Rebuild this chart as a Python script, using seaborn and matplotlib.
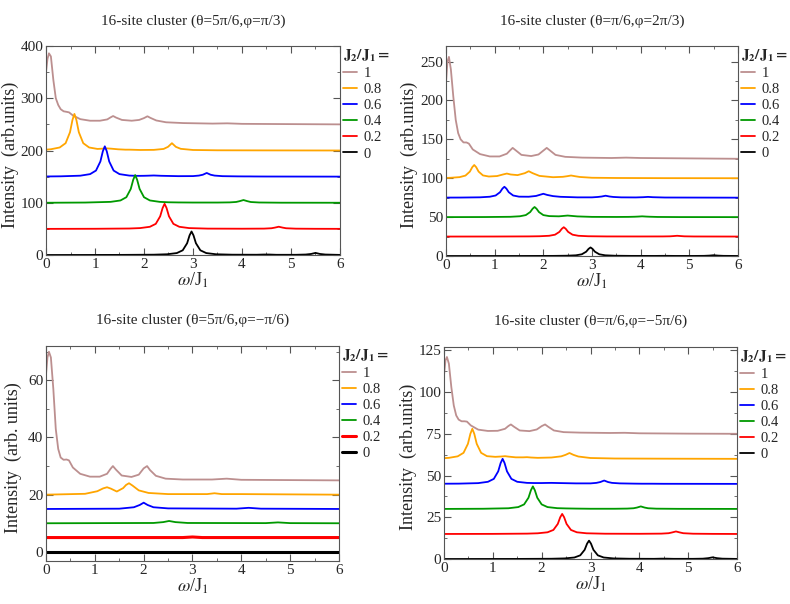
import numpy as np
import pandas as pd
import matplotlib
matplotlib.use("Agg")
import matplotlib.pyplot as plt
from matplotlib.ticker import MultipleLocator
import seaborn as sns

# J2/J1 values and colours (legend order top to bottom)
j2_labels = ["1", "0.8", "0.6", "0.4", "0.2", "0"]
colors = ["#bc8f8f", "#ffa500", "#0000ff", "#009900", "#ff0000", "#000000"]

titles = [
    "16-site cluster (\u03b8=5\u03c0/6,\u03c6=\u03c0/3)",
    "16-site cluster (\u03b8=\u03c0/6,\u03c6=2\u03c0/3)",
    "16-site cluster (\u03b8=5\u03c0/6,\u03c6=\u2212\u03c0/6)",
    "16-site cluster (\u03b8=\u03c0/6,\u03c6=\u22125\u03c0/6)",
]
ylabels = ["Intensity  (arb.units)", "Intensity  (arb.units)",
           "Intensity  (arb. units)", "Intensity  (arb.units)"]

# omega/J1 sample points, one list per J2 (panels a, b, d)
x_j10 = [0, 0.03, 0.06, 0.1, 0.15, 0.2, 0.25, 0.3, 0.36, 0.42, 0.47, 0.55, 0.7, 0.9,
         1.1, 1.25, 1.32, 1.37, 1.43, 1.55, 1.75, 1.9, 2.0, 2.07, 2.13, 2.25, 2.45,
         2.8, 3.4, 3.7, 4.0, 5.0, 6.0]
x_j08 = [0, 0.1, 0.28, 0.4, 0.49, 0.54, 0.58, 0.62, 0.67, 0.76, 0.88, 1.05, 1.17,
         1.25, 1.33, 1.47, 1.62, 1.7, 1.78, 1.92, 2.2, 2.4, 2.49, 2.57, 2.65, 2.75,
         3.0, 3.5, 4.5, 6.0]
x_j06 = [0, 0.3, 0.7, 0.9, 1.02, 1.11, 1.16, 1.2, 1.24, 1.29, 1.38, 1.5, 1.7, 1.85,
         1.92, 2.0, 2.08, 2.2, 2.35, 2.7, 3.0, 3.12, 3.2, 3.28, 3.36, 3.44, 3.6, 3.9,
         4.05, 4.15, 4.25, 4.5, 6.0]
x_j04 = [0, 0.8, 1.32, 1.52, 1.64, 1.73, 1.78, 1.82, 1.86, 1.91, 2.0, 2.12, 2.32,
         2.5, 2.7, 3.0, 3.5, 3.75, 3.88, 3.95, 4.03, 4.11, 4.18, 4.35, 4.8, 6.0]
x_j02 = [0, 1.0, 1.7, 1.92, 2.12, 2.24, 2.33, 2.38, 2.42, 2.46, 2.51, 2.6, 2.72,
         2.92, 3.3, 4.0, 4.45, 4.6, 4.67, 4.75, 4.83, 4.9, 5.1, 5.5, 6.0]
x_j00 = [0, 1.5, 2.2, 2.47, 2.67, 2.79, 2.88, 2.93, 2.97, 3.01, 3.06, 3.15, 3.27,
         3.47, 3.8, 4.3, 4.45, 4.55, 4.7, 5.1, 5.3, 5.41, 5.5, 5.59, 5.7, 6.0]

# panel a: theta=5pi/6, phi=pi/3
a_j10 = [350, 375, 386, 380, 335, 300, 287, 279, 275, 274, 273, 267, 260, 257, 257,
         259.5, 263.5, 266, 263, 258.5, 257, 258.5, 262, 265.5, 262.5, 257.5, 254,
         252.5, 251.5, 252, 251, 250.5, 250]
a_j08 = [201.6, 202.4, 205.8, 214, 235, 258.5, 270, 258.5, 235, 214, 205.8, 203,
         203.6, 204, 203.5, 202.3, 201.6, 201.6, 201.4, 201, 201.2, 203, 207, 214,
         207, 203.2, 201, 200.4, 200.2, 200]
a_j06 = [150.3, 150.6, 151.8, 154.8, 161.6, 179, 198.5, 208, 198.5, 179, 161.6,
         154.8, 152, 151.5, 151.5, 151.6, 151.8, 152.2, 151.6, 150.9, 151, 152,
         153.6, 157, 153.6, 152, 150.9, 150.5, 150.4, 150.4, 150.3, 150.2, 150]
a_j04 = [100, 100.4, 101.7, 104.4, 110.6, 126.5, 144, 153, 144, 126.5, 110.6, 104.4,
         101.7, 100.9, 100.6, 100.4, 100.4, 100.7, 101.5, 103, 105.2, 103, 101.4,
         100.5, 100.1, 100]
a_j02 = [50, 50.2, 50.7, 51.5, 54, 59.6, 74, 90, 98, 90, 74, 59.6, 54, 51.5, 50.5,
         50.3, 50.5, 51.2, 52.4, 54.1, 52.4, 51.2, 50.4, 50.15, 50.05]
a_j00 = [0, 0.2, 0.6, 1.4, 3.7, 9, 22.5, 37.6, 45, 37.6, 22.5, 9, 3.7, 1.4, 0.6,
         0.5, 0.9, 0.9, 0.4, 0.4, 0.9, 2, 4, 2, 0.9, 0.2]

# panel b: theta=pi/6, phi=2pi/3
b_j10 = [223, 250, 256, 240, 205, 175, 158, 150, 146, 146, 144.5, 137, 131, 128,
         128, 131.5, 136, 139, 136, 130, 128.5, 130.5, 135.5, 139, 136, 130, 127.5,
         126.5, 126, 126.5, 126, 125.5, 125]
b_j08 = [100.4, 100.6, 101.4, 103.4, 108.5, 114.2, 117, 114.2, 108.5, 103.6, 102.2,
         102.8, 104.8, 106, 104.8, 104, 106.5, 109, 106.5, 103, 101.3, 101.8, 102.6,
         103.5, 102.6, 101.6, 100.6, 100.3, 100.1, 100]
b_j06 = [75.1, 75.15, 75.45, 76.2, 77.8, 82, 86.7, 89, 86.7, 82, 77.8, 76.3, 76.2,
         77.2, 78.5, 80, 78.5, 77, 76.1, 75.4, 75.4, 75.9, 76.5, 77.5, 76.5, 75.9,
         75.4, 75.3, 75.6, 76, 75.6, 75.2, 75]
b_j04 = [50, 50.1, 50.4, 51.1, 52.6, 56.5, 60.8, 63, 60.8, 56.5, 52.6, 51.3, 51,
         52, 50.9, 50.3, 50.2, 50.3, 50.5, 50.7, 51, 50.7, 50.5, 50.2, 50.05, 50]
b_j02 = [25, 25.05, 25.2, 25.4, 26, 27.4, 31, 35, 37, 35, 31, 27.4, 26, 25.4, 25.15,
         25.1, 25.15, 25.3, 25.6, 26, 25.6, 25.3, 25.1, 25.05, 25]
b_j00 = [0, 0.05, 0.15, 0.35, 0.9, 2.2, 5.5, 9.2, 11, 9.2, 5.5, 2.2, 0.9, 0.35,
         0.15, 0.1, 0.2, 0.2, 0.1, 0.1, 0.2, 0.5, 1, 0.5, 0.2, 0.05]

# panel d: theta=pi/6, phi=-5pi/6
d_j10 = [110, 119, 121, 117, 103, 92, 86, 83.5, 82.5, 82.5, 82.3, 80, 77.5, 76.7,
         76.8, 78, 79.7, 80.6, 79.3, 77, 76.6, 77.6, 79.6, 80.6, 79.3, 77, 76, 75.7,
         75.5, 75.6, 75.3, 75.1, 75]
d_j08 = [60.4, 60.6, 61.5, 63.6, 69, 75, 78, 75, 69, 63.6, 61.6, 61.2, 61.4, 61.6,
         61.3, 60.9, 60.9, 61, 60.8, 60.6, 60.8, 61.5, 62.4, 63.5, 62.4, 61.4, 60.5,
         60.2, 60.1, 60]
d_j06 = [45.1, 45.15, 45.45, 46.25, 48, 52.5, 57.5, 60, 57.5, 52.5, 48, 46.25, 45.6,
         45.5, 45.5, 45.5, 45.55, 45.6, 45.5, 45.3, 45.3, 45.6, 46.1, 47, 46.1, 45.6,
         45.3, 45.15, 45.1, 45.1, 45.1, 45.05, 45]
d_j04 = [30, 30.1, 30.4, 31.1, 32.7, 36.7, 41.2, 43.5, 41.2, 36.7, 32.7, 31.1, 30.45,
         30.3, 30.2, 30.1, 30.1, 30.2, 30.4, 30.8, 31.5, 30.8, 30.4, 30.15, 30.05, 30]
d_j02 = [15, 15.05, 15.2, 15.4, 16, 17.4, 21, 25, 27, 25, 21, 17.4, 16, 15.4, 15.15,
         15.1, 15.2, 15.45, 15.9, 16.5, 15.9, 15.45, 15.15, 15.05, 15]
d_j00 = [0, 0.05, 0.15, 0.35, 0.9, 2.2, 5.5, 9.2, 11, 9.2, 5.5, 2.2, 0.9, 0.35,
         0.15, 0.1, 0.2, 0.2, 0.1, 0.1, 0.2, 0.5, 1, 0.5, 0.2, 0.05]

# panel c: theta=5pi/6, phi=-pi/6 (own sample points)
c_x08 = [0, 0.8, 1.05, 1.17, 1.25, 1.33, 1.45, 1.58, 1.64, 1.7, 1.77, 1.9, 2.1, 2.5,
         3.3, 3.45, 3.6, 4.0, 5.0, 6.0]
c_x06 = [0, 1.5, 1.8, 1.92, 2.0, 2.08, 2.2, 2.5, 3.9, 4.15, 4.4, 6.0]
c_x04 = [0, 2.2, 2.4, 2.52, 2.65, 2.9, 4.5, 4.75, 5.0, 6.0]
c_x02 = [0, 2.8, 3.0, 3.2, 6.0]
c_x00 = [0, 6.0]
c_j10 = [62, 68, 70, 68, 57, 43, 36, 33, 32.2, 32.3, 32, 29.5, 27.3, 26.3, 26.3,
         27.3, 29, 30, 28.8, 26.7, 26.2, 27, 29.2, 30, 28.6, 26.6, 25.6, 25.3, 25.3,
         25.6, 25.2, 25.1, 25]
c_j08 = [20, 20.3, 21.2, 22.2, 22.6, 22.1, 21.1, 22.3, 23.4, 24, 23.2, 21.5, 20.6,
         20.2, 20.2, 20.5, 20.2, 20.2, 20.1, 20]
c_j06 = [15, 15.1, 15.6, 16.4, 17.2, 16.4, 15.6, 15.2, 15.1, 15.4, 15.1, 15]
c_j04 = [10, 10.1, 10.4, 10.8, 10.4, 10.1, 10.05, 10.3, 10.05, 10]
c_j02 = [5, 5, 5.2, 5, 5]
c_j00 = [0, 0]

panels = [
    [(x_j10, a_j10), (x_j08, a_j08), (x_j06, a_j06), (x_j04, a_j04), (x_j02, a_j02), (x_j00, a_j00)],
    [(x_j10, b_j10), (x_j08, b_j08), (x_j06, b_j06), (x_j04, b_j04), (x_j02, b_j02), (x_j00, b_j00)],
    [(x_j10, c_j10), (c_x08, c_j08), (c_x06, c_j06), (c_x04, c_j04), (c_x02, c_j02), (c_x00, c_j00)],
    [(x_j10, d_j10), (x_j08, d_j08), (x_j06, d_j06), (x_j04, d_j04), (x_j02, d_j02), (x_j00, d_j00)],
]

ylims = [(0, 400), (0, 270), (-3.2, 72), (0, 127)]
ymajor = [100, 50, 20, 25]
yminor = [50, 25, 10, 12.5]
ylabel_x = [-0.092, -0.096, -0.082, -0.092]

sns.set_style("ticks")
plt.rcParams["font.family"] = ["Liberation Serif", "DejaVu Serif"]
plt.rcParams["mathtext.fontset"] = "stix"

fig = plt.figure(figsize=(7.9, 6.04), dpi=100)
rects = [
    [46 / 790, 1 - 255 / 604, 294 / 790, 209 / 604],
    [446 / 790, 1 - 256 / 604, 292 / 790, 210 / 604],
    [46 / 790, 1 - 561 / 604, 293 / 790, 215 / 604],
    [444 / 790, 1 - 559 / 604, 293 / 790, 212 / 604],
]

for i, rect in enumerate(rects):
    ax = fig.add_axes(rect)
    for k, (xs, ys) in enumerate(panels[i]):
        lw = 1.3
        if i == 2 and k >= 4:
            lw = 2.2
        df = pd.DataFrame({"w": xs, "I": ys})
        sns.lineplot(data=df, x="w", y="I", ax=ax, color=colors[k], lw=lw,
                     label=j2_labels[k], sort=False, estimator=None)
    ax.set_xlim(0, 6)
    ax.set_ylim(*ylims[i])
    ax.xaxis.set_major_locator(MultipleLocator(1))
    ax.xaxis.set_minor_locator(MultipleLocator(0.5))
    ax.yaxis.set_major_locator(MultipleLocator(ymajor[i]))
    ax.yaxis.set_minor_locator(MultipleLocator(yminor[i]))
    ax.tick_params(which="both", direction="in", top=True, right=True,
                   labelsize=11, color="#555555")
    ax.tick_params(which="major", length=5, pad=2)
    ax.tick_params(which="minor", length=2.5)
    for sp in ax.spines.values():
        sp.set_color("#555555")
        sp.set_linewidth(0.8)
    ax.set_xlabel(r"$\omega$/J$_1$", fontsize=13, labelpad=0)
    ax.set_ylabel(ylabels[i], fontsize=13)
    ax.yaxis.set_label_coords(ylabel_x[i], 0.48)
    ax.text(0.5, 1.12, titles[i], transform=ax.transAxes, ha="center",
            va="center", fontsize=11)
    leg = ax.legend(loc="upper left", bbox_to_anchor=(0.99, 1.02), frameon=False,
                    handlelength=1.0, handletextpad=0.4, labelspacing=0.2,
                    borderaxespad=0.2, borderpad=0.2, fontsize=10.5,
                    title=r"$\mathbf{J_2/J_1=}$", title_fontsize=11)
    leg._legend_box.align = "left"

fig.savefig("out.png", dpi=100)
